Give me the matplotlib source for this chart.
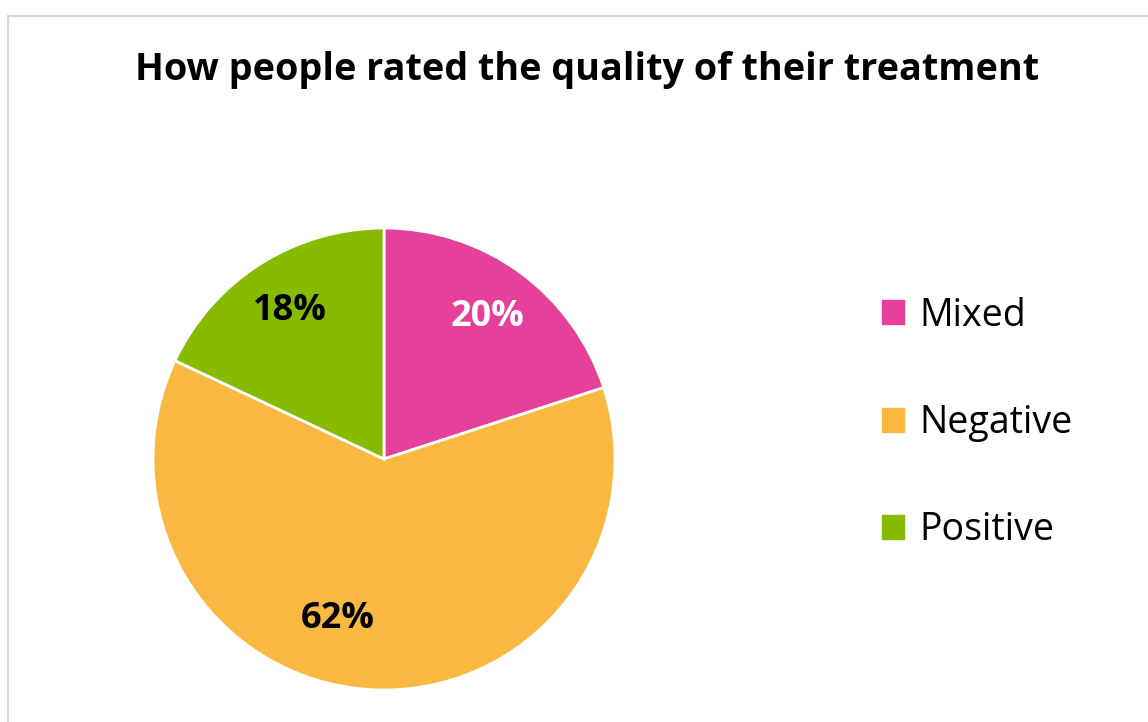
import numpy as np
import matplotlib
matplotlib.use("Agg")
import matplotlib.pyplot as plt
from matplotlib.patches import Patch, Rectangle

# rating shares (percent)
categories = ["Mixed", "Negative", "Positive"]
shares = [20, 62, 18]
colors = ["#E6409A", "#F9B940", "#86BB00"]
label_colors = ["white", "black", "black"]
title = "How people rated the quality of their treatment"

plt.rcParams["font.family"] = ["Open Sans", "DejaVu Sans"]

W, H = 1148, 722
fig = plt.figure(figsize=(W / 100, H / 100), dpi=100)

# light card frame
fig.patches.append(Rectangle((8 / W, -0.05), 1.2, 1 - 16 / H + 0.05,
                             transform=fig.transFigure, fill=False,
                             ec="#d9d9d9", lw=1.5))

fig.text(0.511, 1 - 70 / H, title, ha="center", va="center",
         fontsize=27.2, fontweight="bold", color="black")

cx, cy, r = 384, 459, 231
ax = fig.add_axes([(cx - r) / W, (H - cy - r) / H, 2 * r / W, 2 * r / H])
wedges, texts, autotexts = ax.pie(
    shares, colors=colors, startangle=90, counterclock=False, radius=1,
    autopct="%d%%", pctdistance=0.76,
    wedgeprops=dict(edgecolor="white", linewidth=2),
    textprops=dict(fontsize=26, fontweight="bold"))
for t, c in zip(autotexts, label_colors):
    t.set_color(c)

# nudge the big slice label round a little
ang = np.deg2rad(-106)
autotexts[1].set_position((0.72 * np.cos(ang), 0.72 * np.sin(ang)))

ax.set_xlim(-1, 1)
ax.set_ylim(-1, 1)
ax.set_aspect("equal")
ax.axis("off")

handles = [Patch(facecolor=c, edgecolor=c) for c in colors]
fig.legend(handles, categories, loc="center left",
           bbox_to_anchor=(863 / W, 1 - 423 / H), frameon=False,
           fontsize=27, handlelength=0.6, handleheight=0.6,
           handletextpad=0.4, labelspacing=1.85, borderpad=0)

fig.savefig("out.png", dpi=100)
